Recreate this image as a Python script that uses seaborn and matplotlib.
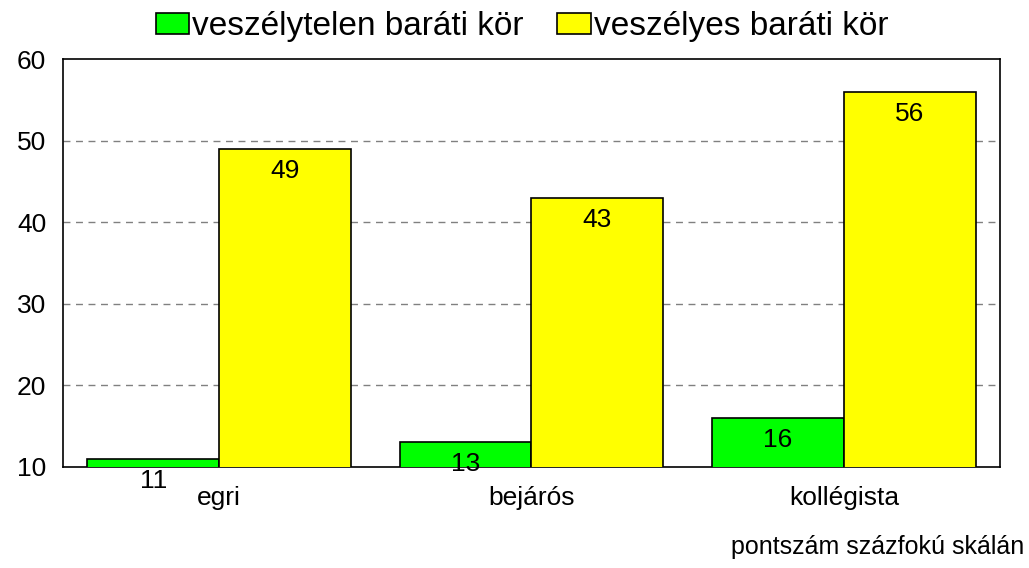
import pandas as pd
import matplotlib.pyplot as plt
import seaborn as sns

csoportok = ['egri', 'bejárós', 'kollégista']
sorozatok = ['veszélytelen baráti kör', 'veszélyes baráti kör']
veszelytelen = [11, 13, 16]
veszelyes = [49, 43, 56]
szinek = ['#00FF00', '#FFFF00']

df = pd.DataFrame({
    'csoport': csoportok * 2,
    'sorozat': [sorozatok[0]] * 3 + [sorozatok[1]] * 3,
    'pont': veszelytelen + veszelyes,
})

sns.set_style('white')
plt.rcParams['font.family'] = ['Liberation Sans', 'DejaVu Sans']
plt.rcParams['text.color'] = 'black'
plt.rcParams['xtick.color'] = 'black'
plt.rcParams['ytick.color'] = 'black'

fig = plt.figure(figsize=(10.29, 5.68), dpi=100)
ax = fig.add_axes([0.0612, 0.178, 0.9106, 0.718])

sns.barplot(data=df, x='csoport', y='pont', hue='sorozat', palette=szinek,
            saturation=1, width=0.845, edgecolor='black', linewidth=1.2,
            ax=ax, zorder=3)

ax.set_ylim(10, 60)
ax.set_yticks([10, 20, 30, 40, 50, 60])
for y in [20, 30, 40, 50]:
    ax.axhline(y, color='#808080', linestyle=(0, (5, 4)), linewidth=1, zorder=1)

for cont in ax.containers:
    for bar in cont:
        h = bar.get_height()
        ax.text(bar.get_x() + bar.get_width() / 2, h - 2.7, f'{h:.0f}',
                ha='center', va='center', fontsize=19, clip_on=False, zorder=5)

for s in ax.spines.values():
    s.set_color('black')
    s.set_linewidth(1.2)

ax.set_xlabel('')
ax.set_ylabel('')
ax.tick_params(axis='both', length=0, labelsize=19)
ax.tick_params(axis='y', pad=12)
ax.tick_params(axis='x', pad=14)

leg = ax.legend(loc='lower center', bbox_to_anchor=(0.49, 1.0), ncol=2, frameon=False,
                fontsize=24, handlelength=1.0, handleheight=0.6, handletextpad=0.1,
                columnspacing=1.0, borderaxespad=0.1)

fig.text(0.995, 0.015, 'pontszám százfokú skálán', ha='right', va='bottom', fontsize=18)

plt.savefig('out.png', dpi=100)
